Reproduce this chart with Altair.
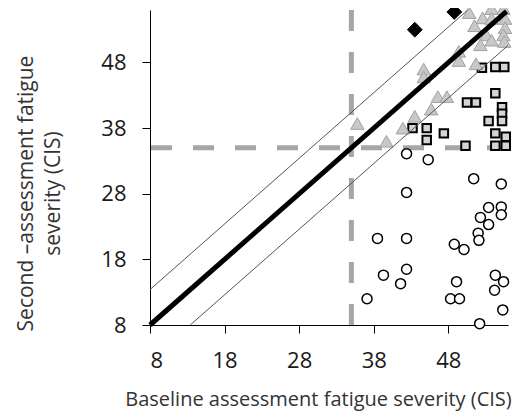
import altair as alt
import pandas as pd

# Data
circles_x = [42.4, 45.3, 51.4, 55.1, 42.4, 53.4, 55.1, 52.3, 55.1, 53.4, 52.0, 52.1, 38.5, 42.4,
             48.8, 50.1, 39.3, 42.4, 41.6, 49.1, 54.3, 55.4, 54.2, 37.1, 48.3, 49.5, 55.3, 52.2]
circles_y = [34.1, 33.2, 30.3, 29.5, 28.2, 25.9, 26.0, 24.4, 24.8, 23.3, 22.0, 20.9, 21.2, 21.2,
             20.3, 19.5, 15.6, 16.5, 14.3, 14.6, 15.6, 14.6, 13.3, 12.0, 12.0, 12.0, 10.3, 8.2]

squares_x = [52.5, 54.3, 55.5, 54.3, 50.5, 51.7, 55.2, 55.2, 53.4, 55.2, 43.2, 45.1, 45.1,
             47.4, 54.3, 55.7, 50.3, 54.3, 55.7]
squares_y = [47.2, 47.3, 47.3, 43.3, 41.9, 41.9, 41.2, 40.2, 39.1, 39.1, 38.0, 38.0, 36.2,
             37.2, 37.2, 36.7, 35.3, 35.3, 35.3]

triangles_x = [50.8, 53.8, 55.4, 52.6, 53.8, 55.6, 51.5, 55.6, 53.1, 55.4, 53.8, 55.5, 52.3,
               49.4, 49.4, 51.7, 44.7, 44.7, 46.6, 47.8, 45.7, 43.5, 41.9, 35.8, 39.7]
triangles_y = [55.6, 56.2, 56.2, 54.8, 54.7, 54.7, 53.6, 53.3, 52.2, 52.2, 51.4, 51.2, 50.7,
               49.7, 48.3, 47.8, 47.0, 45.8, 42.8, 42.8, 40.9, 39.8, 38.0, 38.7, 36.0]

diamonds_x = [43.5, 48.8]
diamonds_y = [53.0, 55.7]

# identity line and +/- band
identity_x = [8, 55.8]
identity_y = [8, 55.8]
upper_x = [8, 50.6]
upper_y = [13.4, 56]
lower_x = [13.4, 56]
lower_y = [8, 50.6]

cutoff_x = 35
cutoff_y = 35

tick_values = [8, 18, 28, 38, 48]
domain = [8, 56]

FONT = "Open Sans"

xs = alt.Scale(domain=domain, nice=False, zero=False)
ys = alt.Scale(domain=domain, nice=False, zero=False)

x_axis = alt.Axis(values=tick_values, grid=False, tickSize=8, tickColor="#000", domainColor="#000",
                  labelFontSize=22, labelColor="#1a1a1a", labelPadding=17, labelFont=FONT,
                  title="Baseline assessment fatigue severity (CIS)", titleFont=FONT,
                  titleFontSize=20, titleFontWeight="normal", titleColor="#333",
                  titleX=168, titleY=64, titleBaseline="top", titleAlign="center")
y_axis = alt.Axis(values=tick_values, grid=False, tickSize=8, tickColor="#000", domainColor="#000",
                  labelFontSize=22, labelColor="#1a1a1a", labelPadding=16, labelFont=FONT,
                  title=["Second \u2013assessment fatigue", "severity (CIS)"], titleFont=FONT,
                  titleFontSize=21, titleFontWeight="normal", titleColor="#333",
                  titleLineHeight=27, titleX=-114, titleY=183, titleBaseline="bottom",
                  titleAlign="center", titleAngle=270)

def pts(xv, yv):
    return pd.DataFrame({"x": xv, "y": yv})

X = alt.X("x:Q", scale=xs, axis=x_axis)
Y = alt.Y("y:Q", scale=ys, axis=y_axis)

vrule = alt.Chart(pd.DataFrame({"x": [cutoff_x]})).mark_rule(
    color="#a6a6a6", strokeWidth=5, strokeDash=[21, 21]).encode(x=X)
hrule = alt.Chart(pd.DataFrame({"y": [cutoff_y]})).mark_rule(
    color="#a6a6a6", strokeWidth=5, strokeDash=[21, 21]).encode(y=Y)

circ = alt.Chart(pts(circles_x, circles_y)).mark_point(
    shape="circle", size=100, filled=True, fill="white", stroke="black", strokeWidth=1.5, opacity=1
).encode(x=X, y=Y)
sq = alt.Chart(pts(squares_x, squares_y)).mark_point(
    shape="square", size=72, filled=True, fill="#d4d4d4", stroke="black", strokeWidth=2, opacity=1
).encode(x=X, y=Y)
tri = alt.Chart(pts(triangles_x, triangles_y)).mark_point(
    shape="triangle-up", size=180, filled=True, fill="#c8c8c8", stroke="#a0a0a0", strokeWidth=1, opacity=1
).encode(x=X, y=Y)
dia = alt.Chart(pts(diamonds_x, diamonds_y)).mark_point(
    shape="diamond", size=220, filled=True, fill="black", stroke="black", strokeWidth=1, opacity=1
).encode(x=X, y=Y)

ident = alt.Chart(pts(identity_x, identity_y)).mark_line(color="black", strokeWidth=5).encode(x=X, y=Y)
up = alt.Chart(pts(upper_x, upper_y)).mark_line(color="#555", strokeWidth=1).encode(x=X, y=Y)
lo = alt.Chart(pts(lower_x, lower_y)).mark_line(color="#555", strokeWidth=1).encode(x=X, y=Y)

chart = alt.layer(vrule, hrule, circ, sq, tri, dia, up, lo, ident).properties(
    width=358, height=315,
    autosize=alt.AutoSizeParams(type="none"),
    padding={"left": 142, "top": 2, "right": 14, "bottom": 86},
).configure_view(stroke=None)

chart.save("out.html", embed_options={"renderer": "svg", "actions": False})
